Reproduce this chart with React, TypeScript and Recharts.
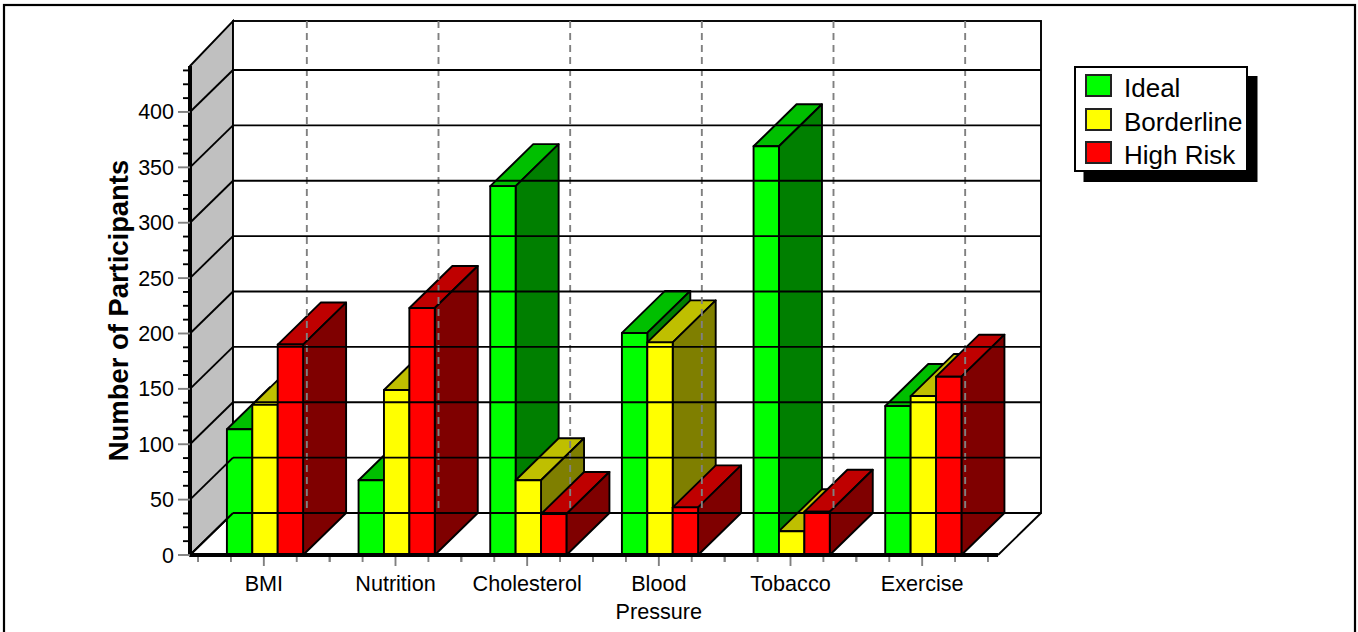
import { BarChart, Bar, XAxis, YAxis, Legend } from 'recharts'

const categories = ['BMI', 'Nutrition', 'Cholesterol', 'Blood Pressure', 'Tobacco', 'Exercise']
const ideal = [113.5, 67.5, 333, 200.5, 369, 134.5]
const borderline = [135.5, 149, 67.5, 192, 21.5, 143.5]
const highRisk = [190, 223, 37, 43, 39, 161]
const yTicks = [
  0, 12.5, 25, 37.5, 50, 62.5, 75, 87.5, 100, 112.5, 125, 137.5, 150, 162.5, 175, 187.5, 200, 212.5, 225, 237.5,
  250, 262.5, 275, 287.5, 300, 312.5, 325, 337.5, 350, 362.5, 375, 387.5, 400, 412.5, 425, 437.5,
]

const data = categories.map((name, i) => ({
  name,
  Ideal: ideal[i],
  Borderline: borderline[i],
  'High Risk': highRisk[i],
}))

const WIDTH = 1358
const HEIGHT = 632
const LEFT = 190
const RIGHT = 998
const TOP = 66
const BOTTOM = 555
const DX = 43
const DY = 42
const BAND = 131.6
const LINE = 1.9
const FONT = '"Liberation Sans", Arial, sans-serif'

function Walls() {
  return (
    <g>
      <rect x={4} y={5} width={1351} height={720} fill="#fff" stroke="#000" strokeWidth={2.2} />
      <polygon
        points={`${LEFT},${TOP} ${LEFT + DX},${TOP - 45} ${LEFT + DX},${BOTTOM - DY} ${LEFT},${BOTTOM}`}
        fill="#c0c0c0"
        stroke="#000"
        strokeWidth={LINE}
      />
      <rect x={LEFT + DX} y={TOP - 45} width={RIGHT - LEFT} height={BOTTOM - DY - TOP + 45} fill="#fff" stroke="#000" strokeWidth={LINE} />
      <line x1={RIGHT} y1={BOTTOM} x2={RIGHT + DX} y2={BOTTOM - DY} stroke="#000" strokeWidth={LINE} />
    </g>
  )
}

function YTick({ x, y, payload }: any) {
  const major = payload.value % 50 === 0
  if (!major) return <line x1={x - 7} x2={x} y1={y} y2={y} stroke="#000" strokeWidth={LINE} />
  return (
    <g>
      <line x1={x} y1={y} x2={x + DX} y2={y - DY} stroke="#000" strokeWidth={LINE} />
      <line x1={x + DX} y1={y - DY} x2={RIGHT + DX} y2={y - DY} stroke="#000" strokeWidth={LINE} />
      <line x1={x - 12} x2={x} y1={y} y2={y} stroke="#808080" strokeWidth={LINE} />
      <text x={x - 16} y={y + 7.5} textAnchor="end" fontSize={21.5} fontFamily={FONT} fill="#000">
        {payload.value}
      </text>
    </g>
  )
}

function XTick({ x, y, payload }: any) {
  const words = payload.value === 'Blood Pressure' ? ['Blood', 'Pressure'] : [payload.value]
  return (
    <g>
      <line x1={x + DX} x2={x + DX} y1={TOP - 45} y2={BOTTOM - DY} stroke="#808080" strokeWidth={LINE} strokeDasharray="7 5" />
      <line x1={x} x2={x} y1={y + 2} y2={y + 11} stroke="#808080" strokeWidth={LINE} />
      {[-2, -1, 1, 2].map((k) =>
        k === 2 && x + (BAND / 4) * k > 1000 ? null : (
          <line key={k} x1={x + (BAND / 4) * k} x2={x + (BAND / 4) * k} y1={y + 2} y2={y + 7} stroke="#808080" strokeWidth={LINE} />
        ),
      )}
      {words.map((w: string, i: number) => (
        <text key={w} x={x} y={y + 36 + i * 28} textAnchor="middle" fontSize={21.6} fontFamily={FONT} fill="#000">
          {w}
        </text>
      ))}
    </g>
  )
}

function Bar3D({ x: bandX, y, width, height, fill, top, side }: any) {
  // bars sit about a pixel right of the tick centre in the original
  const x = bandX + 0.9
  const r = x + width
  const b = y + height
  return (
    <g stroke="#000" strokeWidth={LINE} strokeLinejoin="round">
      <polygon points={`${x},${y} ${x + DX},${y - DY} ${r + DX},${y - DY} ${r},${y}`} fill={top} />
      <polygon points={`${r},${y} ${r + DX},${y - DY} ${r + DX},${b - DY} ${r},${b}`} fill={side} />
      <rect x={x} y={y} width={width} height={height} fill={fill} />
    </g>
  )
}

function LegendBox({ payload }: any) {
  const order = ['Ideal', 'Borderline', 'High Risk']
  const items = order.map((n) => (payload || []).find((p: any) => p.value === n)).filter(Boolean)
  return (
    <div style={{ position: 'relative', width: 174, height: 106, boxSizing: 'border-box', background: '#fff', border: '2px solid #000', boxShadow: '9.5px 10px 0 #000', fontFamily: FONT, fontSize: 26, color: '#000' }}>
      {items.map((p: any, i: number) => (
        <div key={p.value}>
          <div style={{ position: 'absolute', left: 9, top: 6 + i * 33.5, width: 27, height: 23, boxSizing: 'border-box', background: p.color, border: '2px solid #222' }} />
          <div style={{ position: 'absolute', left: 48, top: 4 + i * 33.5, lineHeight: '32px', whiteSpace: 'nowrap' }}>{p.value}</div>
        </div>
      ))}
    </div>
  )
}

export default function App() {
  return (
    <div style={{ position: 'absolute', left: 0, top: 0, width: WIDTH, height: HEIGHT, overflow: 'hidden', background: '#fff' }}>
      <BarChart
        width={WIDTH}
        height={HEIGHT}
        data={data}
        margin={{ top: TOP, right: WIDTH - RIGHT, bottom: 0, left: 100 }}
        barSize={25.4}
        barGap={0}
      >
        <Walls />
        <XAxis
          dataKey="name"
          height={HEIGHT - BOTTOM}
          padding={{ left: 8, right: 10 }}
          interval={0}
          tickLine={false}
          tickSize={0}
          tickMargin={0}
          axisLine={{ stroke: '#000', strokeWidth: 4 }}
          tick={XTick}
        />
        <YAxis
          width={LEFT - 100}
          domain={[0, 441.5]}
          ticks={yTicks}
          interval={0}
          tickLine={false}
          tickSize={0}
          tickMargin={0}
          axisLine={{ stroke: '#000', strokeWidth: 4 }}
          tick={YTick}
          label={{
            value: 'Number of Participants',
            angle: -90,
            position: 'insideLeft',
            offset: 0,
            dx: 18,
            style: { fontFamily: FONT, fontSize: 27.4, fontWeight: 700, fill: '#000', textAnchor: 'middle' },
          }}
        />
        <Legend
          layout="horizontal"
          align="center"
          verticalAlign="middle"
          content={LegendBox}
          wrapperStyle={{ left: 1074, top: 66, width: 174, height: 106 }}
        />
        <Bar dataKey="Ideal" fill="#00ff00" isAnimationActive={false} shape={(p: any) => <Bar3D {...p} top="#00bf00" side="#007f00" />} />
        <Bar dataKey="Borderline" fill="#ffff00" isAnimationActive={false} shape={(p: any) => <Bar3D {...p} top="#bfbf00" side="#7f7f00" />} />
        <Bar dataKey="High Risk" fill="#ff0000" isAnimationActive={false} shape={(p: any) => <Bar3D {...p} top="#bf0000" side="#7f0000" />} />
      </BarChart>
    </div>
  )
}
